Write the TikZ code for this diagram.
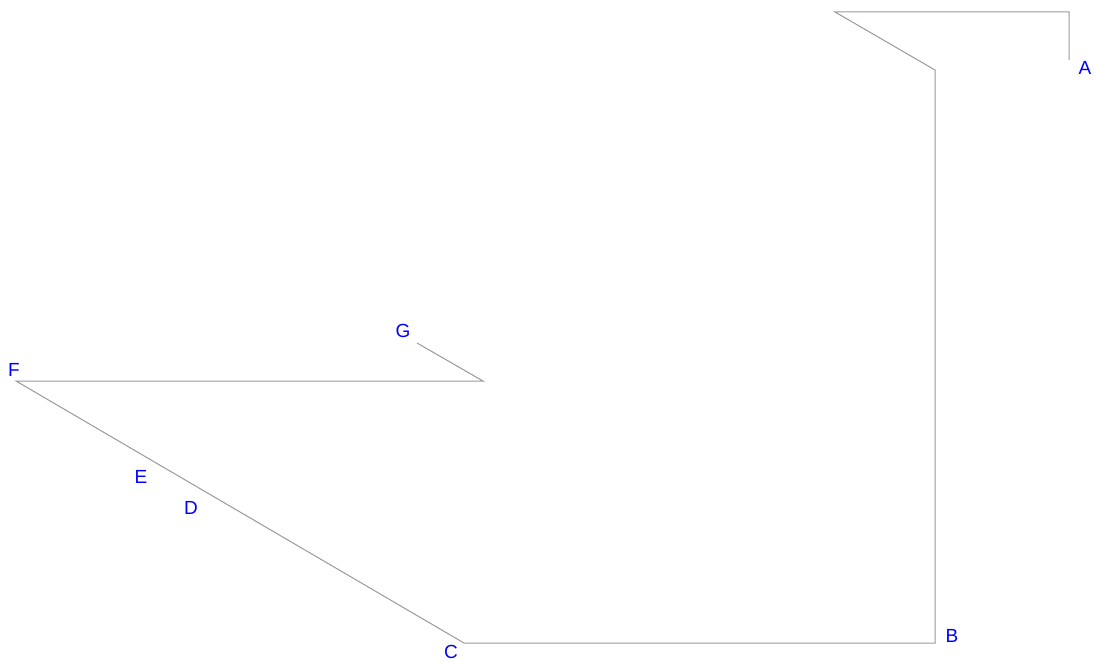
\documentclass[tikz,border=0pt]{standalone}
\usepackage{fontspec}
\setmainfont{Liberation Sans}
\usetikzlibrary{positioning}

\begin{document}
\begin{tikzpicture}[x=1pt, y=-1pt,
    route/.style={draw=black!40, line width=1pt},
    ptlabel/.style={text=blue, font=\fontsize{19}{21}\selectfont, inner sep=0pt}]
  \useasboundingbox (0,0) rectangle (1094,661);

  % corner points of the route
  \coordinate (a)  at (1069,60);
  \coordinate (a1) at (1069,12);
  \coordinate (a2) at (835,12);
  \coordinate (a3) at (935,70);
  \coordinate (b)  at (935,643);
  \coordinate (c)  at (464,643);
  \coordinate (f)  at (16,381);
  \coordinate (f1) at (483,381);
  \coordinate (g)  at (417,343);

  % the route
  \draw[route] (a) -- (a1) -- (a2) -- (a3) -- (b) -- (c) -- (f) -- (f1) -- (g);

  % labels
  \node[ptlabel] (la) at (1085,68) {A};
  \node[ptlabel] (lb) at (952,636) {B};
  \node[ptlabel] (lc) at (451,652) {C};
  \node[ptlabel] (ld) at (191,508) {D};
  \node[ptlabel] (le) at (141,477) {E};
  \node[ptlabel] (lf) at (14,370) {F};
  \node[ptlabel] (lg) at (403,331) {G};
\end{tikzpicture}
\end{document}
